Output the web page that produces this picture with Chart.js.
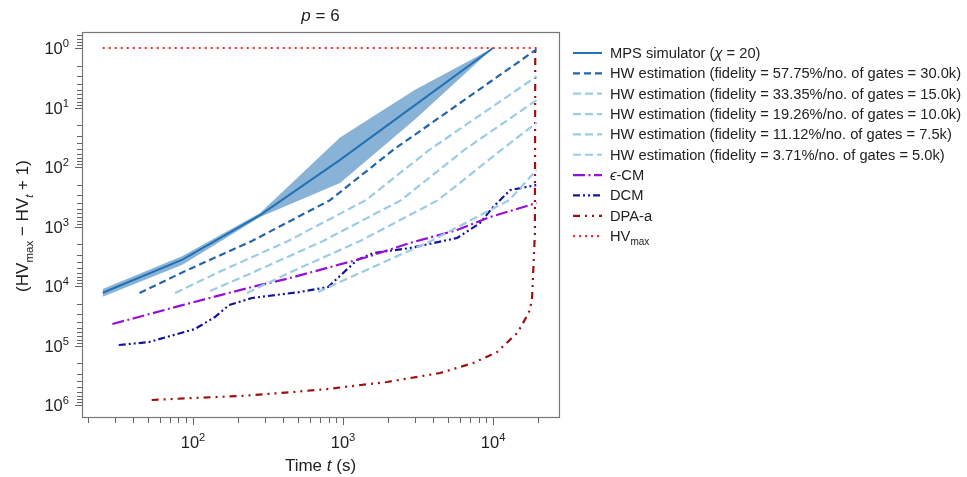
<!DOCTYPE html>
<html>
<head>
<meta charset="utf-8">
<script src="https://cdn.jsdelivr.net/npm/chart.js@4.4.1/dist/chart.umd.min.js"></script>
<style>
  html, body { margin: 0; padding: 0; background: #fff; }
</style>
</head>
<body>
<canvas id="hvChart" width="967" height="477"></canvas>
<script>
// MPS simulator (chi = 20): median and spread band
const mpsTime  = [25, 85, 280, 955, 3000, 10000];
const mpsMid   = [13000, 3600, 645, 76, 9.2, 1];
const mpsUpper = [11200, 3140, 590, 32, 5.1, 1];
const mpsLower = [15200, 4400, 690, 186, 16, 1];

// hardware estimations
const hw1Time = [44, 86, 247, 820, 2150, 19500];
const hw1Val  = [13100, 5800, 1750, 360, 52, 1.05];
const hw2Time = [76, 149, 430, 1420, 3740, 19500];
const hw2Val  = [13100, 5800, 1750, 360, 52, 3.0];
const hw3Time = [130, 255, 736, 2440, 6400, 19500];
const hw3Val  = [12100, 5800, 1750, 360, 52, 7.5];
const hw4Time = [229, 450, 1300, 4300, 11300, 19500];
const hw4Val  = [13100, 5800, 1750, 360, 52, 18];
const hw5Time = [681, 1340, 3860, 12800, 19500];
const hw5Val  = [12600, 5800, 1750, 360, 112];

// classical baselines
const ecmTime = [29, 41, 85, 247, 443, 1445, 2800, 5750, 9550, 19500];
const ecmVal  = [43500, 34500, 20900, 10400, 7340, 3260, 1890, 1145, 692, 403];
const dcmTime = [32, 51, 103, 140, 174, 247, 517, 794, 1240, 1585, 2800, 5750, 8190, 10000, 13000, 19400];
const dcmVal  = [98000, 87300, 52800, 33200, 20900, 15900, 12600, 10400, 3660, 2790, 2300, 1560, 873, 470, 244, 201];
const dpaTime = [53, 100, 206, 464, 782, 1965, 4430, 7360, 10630, 14450, 15600, 17600, 18200, 19000, 19050, 19100];
const dpaVal  = [824000, 762000, 706000, 605000, 539000, 410000, 290000, 197000, 128500, 61700, 45200, 25300, 15300, 1285, 35, 1.08];
const hvmaxTime = [25, 19500];
const hvmaxVal  = [1, 1];

// axis ticks
const xMajorTicks = [100, 1000, 10000];
const xMajorExp   = ['2', '3', '4'];
const yMajorTicks = [1, 10, 100, 1000, 10000, 100000, 1000000];
const yMajorExp   = ['0', '1', '2', '3', '4', '5', '6'];

const legendLabels = [
  [['MPS simulator (', {}], ['χ', { it: true }], [' = 20)', {}]],
  [['HW estimation (fidelity = 57.75%/no. of gates = 30.0k)', {}]],
  [['HW estimation (fidelity = 33.35%/no. of gates = 15.0k)', {}]],
  [['HW estimation (fidelity = 19.26%/no. of gates = 10.0k)', {}]],
  [['HW estimation (fidelity = 11.12%/no. of gates = 7.5k)', {}]],
  [['HW estimation (fidelity = 3.71%/no. of gates = 5.0k)', {}]],
  [['ϵ', { it: true }], ['-CM', {}]],
  [['DCM', {}]],
  [['DPA-a', {}]],
  [['HV', {}], ['max', { sub: true }]]
];

const FONT = '"Liberation Sans", Arial, sans-serif';
const TEXT = '#222';

const pts = (xs, ys) => xs.map((x, i) => ({ x: x, y: ys[i] }));

function line(data, color, dash, width) {
  return {
    data: data, borderColor: color, borderDash: dash || [], borderWidth: width || 2.2,
    pointRadius: 0, fill: false, tension: 0, borderCapStyle: 'butt'
  };
}

const lineStyles = [
  { color: '#2271b3', dash: [], width: 2 },
  { color: '#2165aa', dash: [7, 4] },
  { color: '#9ccbe6', dash: [8, 4] },
  { color: '#9ccbe6', dash: [8, 4] },
  { color: '#9ccbe6', dash: [8, 4] },
  { color: '#9ccbe6', dash: [8, 4] },
  { color: '#9411d9', dash: [12, 3.5, 2, 3.5] },
  { color: '#15159a', dash: [7, 3, 2, 3, 2, 3] },
  { color: '#9c1010', dash: [7, 5, 2, 5, 2, 5] },
  { color: '#ff2a2a', dash: [2, 4], width: 2.2 }
];

const seriesData = [
  pts(mpsTime, mpsMid),
  pts(hw1Time, hw1Val), pts(hw2Time, hw2Val), pts(hw3Time, hw3Val),
  pts(hw4Time, hw4Val), pts(hw5Time, hw5Val),
  pts(ecmTime, ecmVal), pts(dcmTime, dcmVal), pts(dpaTime, dpaVal),
  pts(hvmaxTime, hvmaxVal)
];

const datasets = seriesData.map((d, i) =>
  line(d, lineStyles[i].color, lineStyles[i].dash, lineStyles[i].width));

// shaded spread of the MPS runs
datasets.push({
  data: pts(mpsTime, mpsUpper), borderWidth: 0, pointRadius: 0, fill: false,
  backgroundColor: 'rgba(0,0,0,0)', tension: 0
});
datasets.push({
  data: pts(mpsTime, mpsLower), borderWidth: 0, pointRadius: 0,
  fill: '-1', backgroundColor: 'rgba(40,116,180,0.55)', tension: 0
});

// draws "10^n" style labels and sub/superscripts
function richText(ctx, parts, x, y, size, align) {
  const fontFor = (o) => {
    const s = (o.sub || o.sup) ? size * 0.68 : size;
    return (o.it ? 'italic ' : '') + s + 'px ' + FONT;
  };
  let w = 0;
  for (const [t, o] of parts) { ctx.font = fontFor(o); w += ctx.measureText(t).width; }
  let cx = align === 'center' ? x - w / 2 : align === 'right' ? x - w : x;
  ctx.textAlign = 'left';
  ctx.textBaseline = 'alphabetic';
  for (const [t, o] of parts) {
    ctx.font = fontFor(o);
    const dy = o.sup ? -size * 0.42 : o.sub ? size * 0.28 : 0;
    ctx.fillText(t, cx, y + dy);
    cx += ctx.measureText(t).width;
  }
}

const decorations = {
  id: 'decorations',
  afterDraw(chart) {
    const ctx = chart.ctx;
    const a = chart.chartArea;
    const xs = chart.scales.x, ys = chart.scales.y;
    ctx.save();

    // frame
    ctx.strokeStyle = '#777';
    ctx.lineWidth = 1.2;
    ctx.strokeRect(a.left + 0.5, a.top + 0.5, a.right - a.left, a.bottom - a.top);

    // tick marks
    ctx.lineWidth = 1;
    ctx.strokeStyle = '#666';
    ctx.beginPath();
    for (let e = 1; e <= 4; e++) {
      for (let m = 1; m <= 9; m++) {
        const v = m * Math.pow(10, e);
        if (v < xs.min || v > xs.max) continue;
        const px = Math.round(xs.getPixelForValue(v)) + 0.5;
        const len = m === 1 ? 7 : 5;
        ctx.moveTo(px, a.bottom + 1); ctx.lineTo(px, a.bottom + 1 + len);
      }
    }
    for (let e = -1; e <= 6; e++) {
      for (let m = 1; m <= 9; m++) {
        const v = m * Math.pow(10, e);
        if (v < ys.min || v > ys.max) continue;
        const py = Math.round(ys.getPixelForValue(v)) + 0.5;
        const len = m === 1 ? 7 : 5;
        ctx.moveTo(a.left, py); ctx.lineTo(a.left - len, py);
      }
    }
    ctx.stroke();

    ctx.fillStyle = TEXT;
    xMajorTicks.forEach((v, i) => {
      richText(ctx, [['10', {}], [xMajorExp[i], { sup: true }]], xs.getPixelForValue(v), a.bottom + 31, 16.5, 'center');
    });
    yMajorTicks.forEach((v, i) => {
      richText(ctx, [['10', {}], [yMajorExp[i], { sup: true }]], a.left - 13, ys.getPixelForValue(v) + 6, 16.5, 'right');
    });

    // titles
    richText(ctx, [['p', { it: true }], [' = 6', {}]], (a.left + a.right) / 2, 21, 17, 'center');
    richText(ctx, [['Time ', {}], ['t', { it: true }], [' (s)', {}]], (a.left + a.right) / 2, 471, 17, 'center');
    ctx.save();
    ctx.translate(28, 226);
    ctx.rotate(-Math.PI / 2);
    richText(ctx, [['(HV', {}], ['max', { sub: true }], [' − HV', {}], ['t', { sub: true, it: true }], [' + 1)', {}]], 0, 0, 17, 'center');
    ctx.restore();

    // legend
    legendLabels.forEach((parts, i) => {
      const yc = 53 + i * 20.35;
      const st = lineStyles[i];
      ctx.beginPath();
      ctx.strokeStyle = st.color;
      ctx.lineWidth = st.width || 2.2;
      ctx.setLineDash(st.dash);
      ctx.moveTo(573, yc); ctx.lineTo(602, yc);
      ctx.stroke();
      ctx.setLineDash([]);
      ctx.fillStyle = TEXT;
      richText(ctx, parts, 610, yc + 5, 14.7, 'left');
    });
    ctx.restore();
  }
};

new Chart(document.getElementById('hvChart'), {
  type: 'line',
  data: { datasets: datasets },
  options: {
    responsive: false,
    animation: false,
    layout: { padding: { left: 82, top: 32, right: 408, bottom: 60 } },
    plugins: { legend: { display: false }, tooltip: { enabled: false } },
    scales: {
      x: { type: 'logarithmic', display: false, bounds: 'data', min: 18.2, max: 27500 },
      y: { type: 'logarithmic', display: false, bounds: 'data', reverse: true, min: 0.538, max: 1590000 }
    }
  },
  plugins: [decorations]
});
</script>
</body>
</html>
